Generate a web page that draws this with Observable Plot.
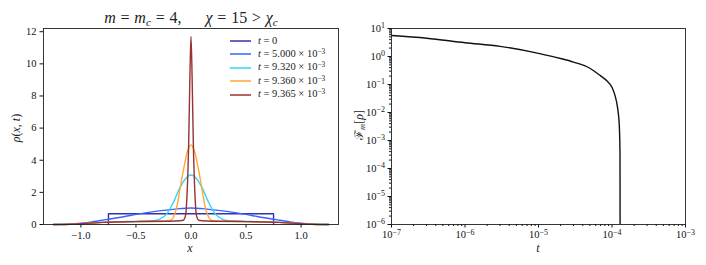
<!DOCTYPE html>
<html><head><meta charset="utf-8">
<script src="https://cdn.jsdelivr.net/npm/d3@7"></script>
<script src="https://cdn.jsdelivr.net/npm/@observablehq/plot@0.6"></script>
<style>
body{margin:0;background:#fff;}
#wrap{position:relative;width:706px;height:265px;font-family:'Liberation Serif',serif;color:#222;overflow:hidden;}
#wrap > svg{position:absolute;top:0;}
.ov{position:absolute;white-space:nowrap;line-height:1;}
.lg{position:absolute;left:229px;width:23px;height:6px;overflow:visible;}
.lt{position:absolute;left:258px;font-size:10.5px;line-height:1;white-space:nowrap;}
sup{font-size:70%;vertical-align:0.45em;line-height:0;}
sub{font-size:70%;vertical-align:-0.25em;line-height:0;}
.op{padding:0 0.3em;}
</style></head><body><div id="wrap"></div><script>
// ---------- left panel data: rho(x,t) ----------
const seriesLabels = ["0", "5.000", "9.320", "9.360", "9.365"];
const seriesColors = ["#3333a6", "#3a62ff", "#33d4ff", "#ffa833", "#993333"];

const xT0 = [-0.75, -0.75, 0.75, 0.75];
const yT0 = [0, 0.667, 0.667, 0];

const xT1 = [-1.25, -1.2, -1.1, -1.0, -0.9, -0.8, -0.75, -0.6, -0.5, -0.4, -0.25, -0.1, 0, 0.1, 0.25, 0.4, 0.5, 0.6, 0.75, 0.8, 0.9, 1.0, 1.1, 1.2, 1.25];
const yT1 = [0, 0.005, 0.03, 0.08, 0.16, 0.27, 0.33, 0.5, 0.63, 0.74, 0.88, 0.99, 1.03, 0.99, 0.88, 0.74, 0.63, 0.5, 0.33, 0.27, 0.16, 0.08, 0.03, 0.005, 0];

const xT2 = [-1.25, -1.2, -1.1, -1.0, -0.9, -0.8, -0.7, -0.5, -0.42, -0.34, -0.28, -0.22, -0.16, -0.1, -0.05, 0, 0.05, 0.1, 0.16, 0.22, 0.28, 0.34, 0.42, 0.5, 0.7, 0.8, 0.9, 1.0, 1.1, 1.2, 1.25];
const yT2 = [0, 0.003, 0.02, 0.05, 0.09, 0.13, 0.16, 0.19, 0.2, 0.23, 0.35, 0.66, 1.38, 2.3, 2.85, 3.08, 2.85, 2.3, 1.38, 0.66, 0.35, 0.23, 0.2, 0.19, 0.16, 0.13, 0.09, 0.05, 0.02, 0.003, 0];

const xT3 = [-1.25, -1.2, -1.1, -1.0, -0.9, -0.8, -0.7, -0.5, -0.3, -0.24, -0.19, -0.16, -0.13, -0.1, -0.07, -0.03, 0, 0.03, 0.07, 0.1, 0.13, 0.16, 0.19, 0.24, 0.3, 0.5, 0.7, 0.8, 0.9, 1.0, 1.1, 1.2, 1.25];
const yT3 = [0, 0.003, 0.02, 0.05, 0.09, 0.13, 0.16, 0.18, 0.19, 0.2, 0.25, 0.45, 1.07, 2.2, 3.35, 4.6, 4.95, 4.6, 3.35, 2.2, 1.07, 0.45, 0.25, 0.2, 0.19, 0.18, 0.16, 0.13, 0.09, 0.05, 0.02, 0.003, 0];

const xT4 = [-1.25, -1.2, -1.1, -1.0, -0.9, -0.8, -0.7, -0.5, -0.3, -0.15, -0.08, -0.065, -0.05, -0.035, -0.021, -0.01, 0, 0.01, 0.021, 0.035, 0.05, 0.065, 0.08, 0.15, 0.3, 0.5, 0.7, 0.8, 0.9, 1.0, 1.1, 1.2, 1.25];
const yT4 = [0, 0.003, 0.02, 0.05, 0.09, 0.13, 0.16, 0.18, 0.2, 0.22, 0.25, 0.3, 0.55, 2.0, 5.1, 9.2, 11.7, 9.2, 5.1, 2.0, 0.55, 0.3, 0.25, 0.22, 0.2, 0.18, 0.16, 0.13, 0.09, 0.05, 0.02, 0.003, 0];

const leftXTicks = [-1.0, -0.5, 0.0, 0.5, 1.0];
const leftYTicks = [0, 2, 4, 6, 8, 10, 12];

// ---------- right panel data: F_m[rho](t) ----------
const tVals = [1e-7, 3e-7, 1e-6, 3e-6, 1e-5, 2e-5, 3e-5, 5e-5, 7e-5, 8.5e-5, 1e-4, 1.1e-4, 1.19e-4, 1.26e-4, 1.285e-4, 1.29e-4];
const fVals = [5.6, 4.5, 3.1, 2.3, 1.3, 0.85, 0.63, 0.38, 0.204, 0.136, 0.079, 0.040, 0.015, 0.003, 3.3e-4, 1e-7];
const rightXMajor = [1e-7, 1e-6, 1e-5, 1e-4, 1e-3];
const rightXExp = [-7, -6, -5, -4, -3];
const rightYMajor = [1e1, 1e0, 1e-1, 1e-2, 1e-3, 1e-4, 1e-5, 1e-6];
const rightYExp = [1, 0, -1, -2, -3, -4, -5, -6];

function tbl(xs, ys) { return xs.map((x, i) => ({x, y: ys[i]})); }
function minors(lo, hi) {
  const out = [];
  for (let e = lo; e < hi; e++) for (let m = 2; m <= 9; m++) out.push(m * Math.pow(10, e));
  return out;
}
const style = {fontFamily: "'Liberation Serif', serif", fontSize: "10.5px", color: "#111", background: "transparent", overflow: "visible"};

const leftData = [tbl(xT0, yT0), tbl(xT1, yT1), tbl(xT2, yT2), tbl(xT3, yT3), tbl(xT4, yT4)];
const left = Plot.plot({
  width: 353, height: 265, marginLeft: 43, marginRight: 15, marginTop: 28, marginBottom: 41,
  style,
  x: {domain: [-1.34, 1.34]},
  y: {domain: [0, 12.2]},
  marks: [
    ...leftData.map((d, i) => Plot.line(d, {x: "x", y: "y", stroke: seriesColors[i], strokeWidth: 1.4,
      curve: i === 0 ? "linear" : "monotone-x"})),
    Plot.axisX({ticks: leftXTicks, tickFormat: d3.format(".1f"), tickSize: 3.5, tickPadding: 3.5, label: null}),
    Plot.axisY({ticks: leftYTicks, tickFormat: d3.format("d"), tickSize: 3.5, tickPadding: 3.5, label: null}),
    Plot.frame({stroke: "#222", strokeWidth: 0.9})
  ]
});

const fData = tbl(tVals, fVals);
const right = Plot.plot({
  width: 353, height: 265, marginLeft: 38, marginRight: 21, marginTop: 28, marginBottom: 41,
  style,
  x: {type: "log", domain: [1e-7, 1e-3]},
  y: {type: "log", domain: [1e-6, 1e1]},
  marks: [
    Plot.line(fData, {x: "x", y: "y", stroke: "#111", strokeWidth: 1.4, curve: "monotone-x", clip: true}),
    Plot.axisX({ticks: rightXMajor, tickFormat: d => "10^" + rightXExp[rightXMajor.indexOf(d)], tickSize: 3.5, tickPadding: 3, label: null}),
    Plot.axisX({ticks: minors(-7, -3), tickFormat: () => "", tickSize: 2, label: null}),
    Plot.axisY({ticks: rightYMajor, tickFormat: d => "10^" + rightYExp[rightYMajor.indexOf(d)], tickSize: 3.5, tickPadding: 3, label: null}),
    Plot.axisY({ticks: minors(-6, 1), tickFormat: () => "", tickSize: 2, label: null}),
    Plot.frame({stroke: "#222", strokeWidth: 0.9})
  ]
});

// superscript formatting of log tick labels
d3.select(right).selectAll("text").each(function() {
  const s = this.textContent;
  if (!s.includes("^")) return;
  const [b, e] = s.split("^");
  const t = d3.select(this);
  t.text(null);
  t.append("tspan").text(b);
  t.append("tspan").attr("dy", "-0.45em").attr("font-size", "8px").text(e.replace("-", "\u2212"));
});

const wrap = document.getElementById("wrap");
left.style.left = "0px";
right.style.left = "353px";
wrap.appendChild(left);
wrap.appendChild(right);

function ov(html, css) {
  const d = document.createElement("div");
  d.className = "ov";
  d.innerHTML = html;
  Object.assign(d.style, css);
  wrap.appendChild(d);
  return d;
}
ov("<i>m</i><span class='op'>=</span><i>m</i><sub><i>c</i></sub><span class='op'>=</span>4,&emsp;&ensp;<i>χ</i><span class='op'>=</span>15<span class='op'>&gt;</span><i>χ</i><sub><i>c</i></sub>",
  {left: "191px", top: "10px", transform: "translateX(-50%)", fontSize: "16px"});
ov("<i>x</i>", {left: "190px", top: "242px", transform: "translateX(-50%)", fontSize: "12px"});
ov("<i>ρ</i>(<i>x</i>, <i>t</i>)", {left: "16px", top: "128px", transform: "translate(-50%,-50%) rotate(-90deg)", fontSize: "12px"});
ov("<i>t</i>", {left: "538px", top: "242px", transform: "translateX(-50%)", fontSize: "12px"});
ov("ℱ<sub><i>m</i></sub>[<i>ρ</i>]", {left: "359px", top: "125px", transform: "translate(-50%,-50%) rotate(-90deg)", fontSize: "12px"});

const rowsY = [41, 54, 67.5, 81, 94.5];
seriesLabels.forEach((lab, i) => {
  const l = document.createElementNS("http://www.w3.org/2000/svg", "svg");
  l.setAttribute("class", "lg");
  l.setAttribute("width", 23);
  l.setAttribute("height", 6);
  l.style.top = (rowsY[i] - 3) + "px";
  const ln = document.createElementNS("http://www.w3.org/2000/svg", "line");
  ln.setAttribute("x1", 1); ln.setAttribute("x2", 22);
  ln.setAttribute("y1", 3); ln.setAttribute("y2", 3);
  ln.setAttribute("stroke", seriesColors[i]);
  ln.setAttribute("stroke-width", 1.5);
  l.appendChild(ln);
  wrap.appendChild(l);
  const t = document.createElement("div");
  t.className = "lt";
  t.style.top = (rowsY[i] - 5.5) + "px";
  t.innerHTML = i === 0 ? "<i>t</i> = 0" : "<i>t</i> = " + lab + " × 10<sup>−3</sup>";
  wrap.appendChild(t);
});
</script></body></html>
